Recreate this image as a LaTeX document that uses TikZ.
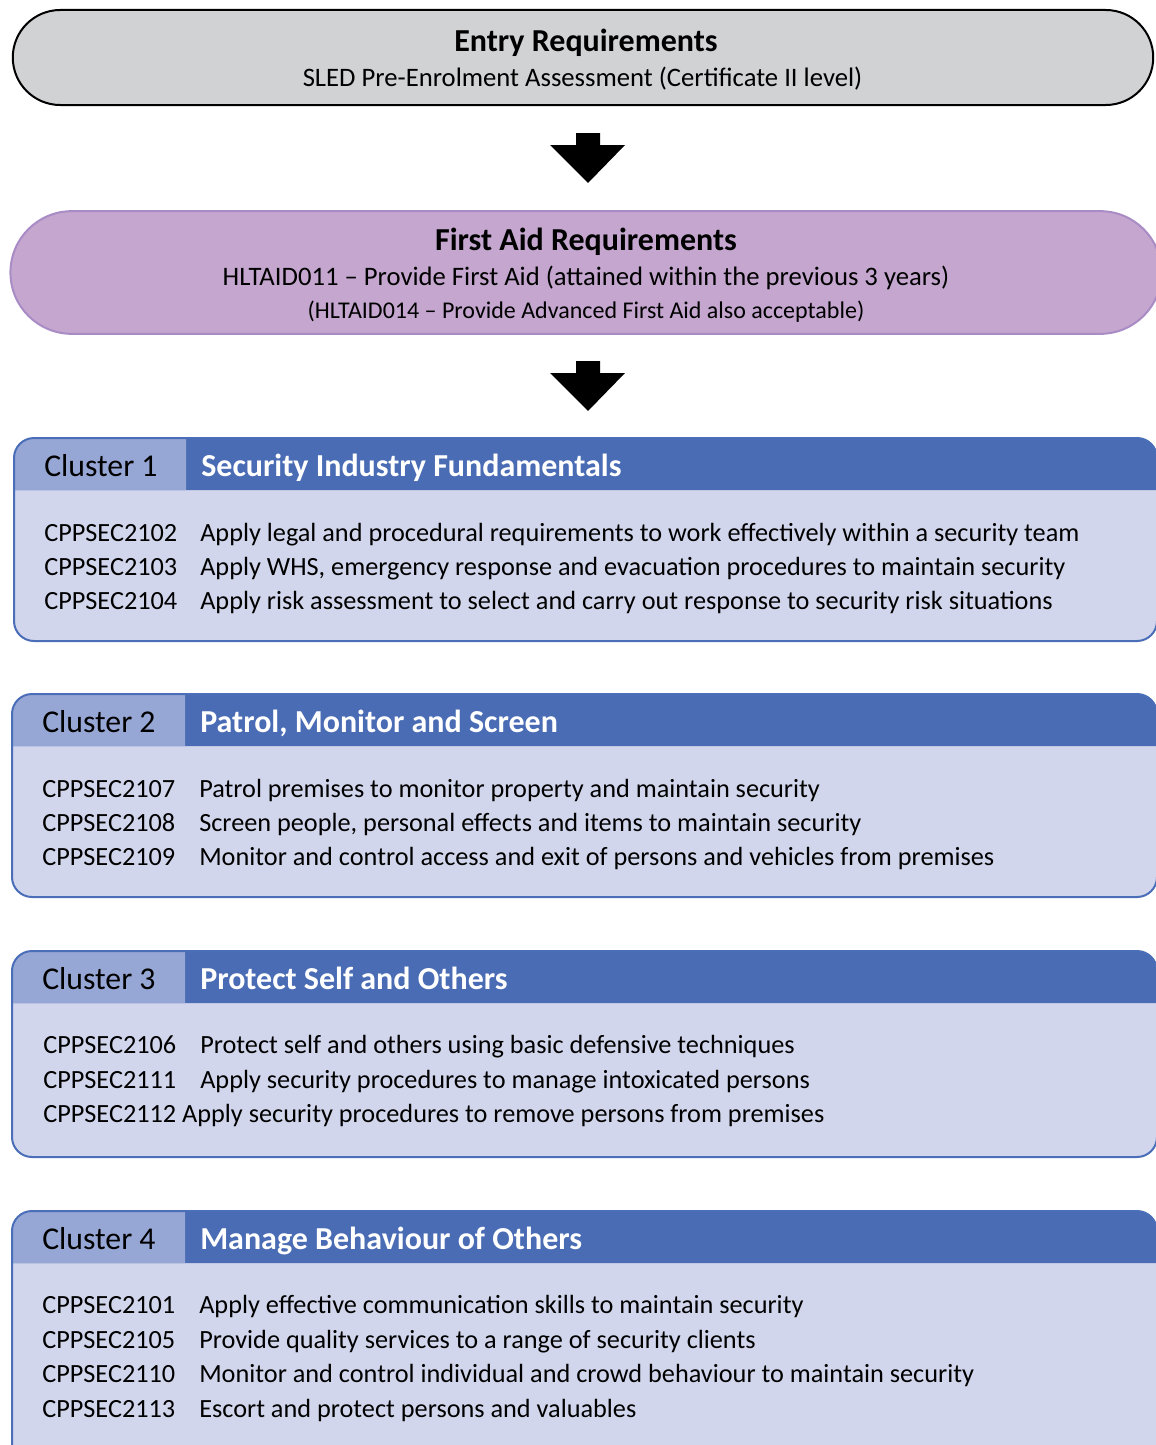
\documentclass[tikz,border=0pt]{standalone}
\usepackage{fontspec}
\setmainfont{Carlito}
\usetikzlibrary{shapes.misc}
\definecolor{entryfill}{HTML}{D1D2D4}
\definecolor{aidfill}{HTML}{C4A6CF}
\definecolor{aiddraw}{HTML}{A98CC6}
\definecolor{clborder}{HTML}{4A6EB8}
\definecolor{cldark}{HTML}{4A6CB5}
\definecolor{cllight}{HTML}{97A7D5}
\definecolor{clbody}{HTML}{D1D6EC}
\tikzset{
  pill/.style={rounded rectangle, line width=1.5pt},
  bodytxt/.style={anchor=base west, inner sep=0pt, font=\fontsize{19.7}{22}\selectfont},
  hdrlabel/.style={anchor=base west, inner sep=0pt, font=\fontsize{23.8}{26}\selectfont},
  hdrtitle/.style={anchor=base west, inner sep=0pt, font=\bfseries\fontsize{24}{26}\selectfont, text=white},
  ctrtxt/.style={anchor=base, inner sep=0pt},
  blockarrow/.style={fill=black},
}
\newcommand\clusterbox[5]{%
  % #1 top, #2 bottom, #3 left, #4 split, #5 header bottom
  \fill[clbody, rounded corners=15pt] (#3,#1) rectangle (1157,#2);
  \fill[cldark] (#3,#5) [rounded corners=15pt] -- (#3,#1) -- (1157,#1) [sharp corners] -- (1157,#5) -- cycle;
  \fill[cllight] (#3,#5) [rounded corners=15pt] -- (#3,#1) [sharp corners] -- (#4,#1) -- (#4,#5) -- cycle;
  \draw[clborder, line width=1.5pt, rounded corners=15pt] (#3,#1) rectangle (1157,#2);
}
\begin{document}
\begin{tikzpicture}[x=0.75pt,y=-0.75pt]
\useasboundingbox (0,0) rectangle (1156,1445);
\fill[white] (0,0) rectangle (1156,1445);
\clip (0,0) rectangle (1156,1445);

% Entry requirements
\node[pill, draw=black, fill=entryfill, minimum width=862pt, minimum height=71.25pt] (entry) at (583,57.5) {};
\node[ctrtxt, font=\bfseries\fontsize{24}{26}\selectfont] (entryt) at (586,52) {Entry Requirements};
\node[ctrtxt, font=\fontsize{20}{22}\selectfont] (entrys) at (582.5,87) {SLED Pre-Enrolment Assessment (Certificate II level)};

% Arrow 1
\coordinate (a1) at (588,133);
\fill[blockarrow] (a1) ++(-12,0) -- ++(24,0) -- ++(0,12) -- ++(25,0) -- (588,183) -- (550,145) -- (576,145) -- cycle;

% First aid
\node[pill, draw=aiddraw, fill=aidfill, minimum width=870pt, minimum height=92pt] (aid) at (586,272.5) {};
\node[ctrtxt, font=\bfseries\fontsize{24}{26}\selectfont] (aidt) at (586,250) {First Aid Requirements};
\node[ctrtxt, font=\fontsize{20}{22}\selectfont] (aids) at (586,285) {HLTAID011 -- Provide First Aid (attained within the previous 3 years)};
\node[ctrtxt, font=\fontsize{18}{20}\selectfont] (aidn) at (586,318) {(HLTAID014 -- Provide Advanced First Aid also acceptable)};

% Arrow 2
\coordinate (a2) at (588,361);
\fill[blockarrow] (a2) ++(-12,0) -- ++(24,0) -- ++(0,12) -- ++(25,0) -- (588,411) -- (550,373) -- (576,373) -- cycle;

% Cluster 1
\clusterbox{438}{641}{14}{186}{490}
\node[hdrlabel] (c1l) at (44,476) {Cluster 1};
\node[hdrtitle] (c1t) at (201,476) {Security Industry Fundamentals};
\node[bodytxt] (c1a) at (44,541) {CPPSEC2102};
\node[bodytxt] (c1ad) at (200,541) {Apply legal and procedural requirements to work effectively within a security team};
\node[bodytxt] (c1b) at (44,575) {CPPSEC2103};
\node[bodytxt] (c1bd) at (200,575) {Apply WHS, emergency response and evacuation procedures to maintain security};
\node[bodytxt] (c1c) at (44,609) {CPPSEC2104};
\node[bodytxt] (c1cd) at (200,609) {Apply risk assessment to select and carry out response to security risk situations};

% Cluster 2
\clusterbox{694}{897}{12}{185}{746}
\node[hdrlabel] (c2l) at (42,732) {Cluster 2};
\node[hdrtitle] (c2t) at (200,732) {Patrol, Monitor and Screen};
\node[bodytxt] (c2a) at (42,797) {CPPSEC2107};
\node[bodytxt] (c2ad) at (199,797) {Patrol premises to monitor property and maintain security};
\node[bodytxt] (c2b) at (42,831) {CPPSEC2108};
\node[bodytxt] (c2bd) at (199,831) {Screen people, personal effects and items to maintain security};
\node[bodytxt] (c2c) at (42,865) {CPPSEC2109};
\node[bodytxt] (c2cd) at (199,865) {Monitor and control access and exit of persons and vehicles from premises};

% Cluster 3
\clusterbox{951}{1157}{12}{185}{1003}
\node[hdrlabel] (c3l) at (42,989) {Cluster 3};
\node[hdrtitle] (c3t) at (200,989) {Protect Self and Others};
\node[bodytxt] (c3a) at (43,1053) {CPPSEC2106};
\node[bodytxt] (c3ad) at (200,1053) {Protect self and others using basic defensive techniques};
\node[bodytxt] (c3b) at (43,1088) {CPPSEC2111};
\node[bodytxt] (c3bd) at (200,1088) {Apply security procedures to manage intoxicated persons};
\node[bodytxt] (c3c) at (43,1122) {CPPSEC2112 Apply security procedures to remove persons from premises};

% Cluster 4
\clusterbox{1211}{1470}{12}{185}{1263}
\node[hdrlabel] (c4l) at (42,1249) {Cluster 4};
\node[hdrtitle] (c4t) at (200,1249) {Manage Behaviour of Others};
\node[bodytxt] (c4a) at (42,1313) {CPPSEC2101};
\node[bodytxt] (c4ad) at (199,1313) {Apply effective communication skills to maintain security};
\node[bodytxt] (c4b) at (42,1348) {CPPSEC2105};
\node[bodytxt] (c4bd) at (199,1348) {Provide quality services to a range of security clients};
\node[bodytxt] (c4c) at (42,1382) {CPPSEC2110};
\node[bodytxt] (c4cd) at (199,1382) {Monitor and control individual and crowd behaviour to maintain security};
\node[bodytxt] (c4d) at (42,1417) {CPPSEC2113};
\node[bodytxt] (c4dd) at (199,1417) {Escort and protect persons and valuables};
\end{tikzpicture}
\end{document}
